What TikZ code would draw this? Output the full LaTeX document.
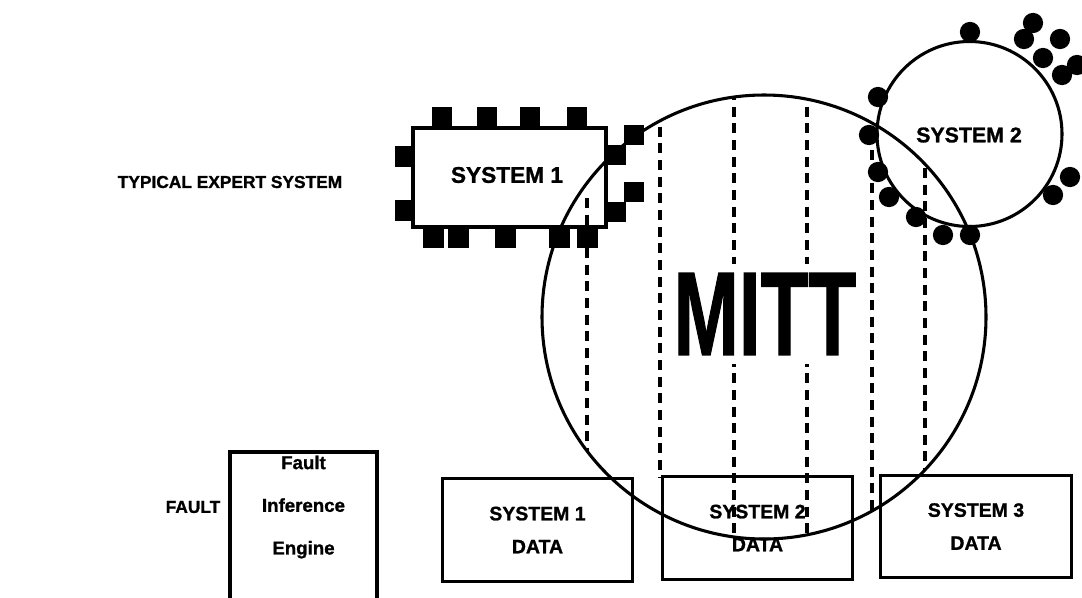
\documentclass[tikz,border=0pt]{standalone}
\usepackage{fontspec}
\setmainfont{Liberation Sans}[BoldFeatures={FakeBold=1.2}]
\usepackage{graphicx}
\begin{document}
\begin{tikzpicture}[x=0.75pt,y=-0.75pt,
  heavy/.style={line width=2.3pt},
  guide/.style={line width=2.4pt, dash pattern=on 7.5pt off 5pt},
  lbl/.style={font=\bfseries\fontsize{13}{16}\selectfont, inner sep=0pt},
  databox/.style={heavy, draw, rectangle, minimum width=143pt, minimum height=77pt,
    align=center, inner sep=0pt, font=\bfseries\fontsize{14.6}{24.75}\selectfont},
  blob/.style={fill=black},
]
\useasboundingbox (0,0) rectangle (1082,597);

% side captions
\node[lbl] (typical) at (230,182) {TYPICAL EXPERT SYSTEM};
\node[lbl] (fault) at (193,507) {FAULT};

% fault inference engine (box runs off the bottom edge)
\node[align=center, inner sep=0pt, font=\bfseries\fontsize{14}{32}\selectfont]
  (engine) at (303.5,507) {Fault\\Inference\\Engine};
\draw[heavy] (230,600) -- (230,452) -- (377,452) -- (377,600);

% data boxes
\node[databox] (data1) at (537.5,530) {SYSTEM 1\\DATA};
\node[databox] (data2) at (757.5,528) {SYSTEM 2\\DATA};
\node[databox] (data3) at (976,526.5) {SYSTEM 3\\DATA};

% MITT domain and its partitions
\node[heavy, draw, circle, minimum size=333pt, inner sep=0pt] (mitt) at (764,317) {};
\begin{scope}
  \clip (mitt.center) circle[radius=166.5pt];
  \draw[guide] (587,198) -- (587,458);
  \draw[guide] (660,110) -- (660,478);
  \draw[guide] (734,90) -- (734,545);
  \draw[guide] (807,90) -- (807,545);
  \draw[guide] (872,150) -- (872,520);
  \draw[guide] (925,168) -- (925,470);
\end{scope}
\node[fill=white, inner xsep=4pt, inner ysep=7pt, font=\bfseries\fontsize{89}{90}\selectfont]
  (mittlabel) at (765,314) {\scalebox{0.66}[1]{MITT}};

% system 1: chip-like rectangle with pins
\node[heavy, draw, rectangle, minimum width=144.75pt, minimum height=74.25pt,
  inner sep=0pt] (sys1) at (509.5,177.5) {};
\node[font=\bfseries\fontsize{17}{20}\selectfont, inner sep=0pt] (sys1label) at (507,175) {SYSTEM 1};
\foreach \x in {432,477,520,567} \fill (\x,107) rectangle ++(20,21);
\foreach \y in {146,200} \fill (395,\y) rectangle ++(19,21);
\foreach \x in {423,448,495,549,577} \fill (\x,227) rectangle ++(21,21);
\fill (606,145) rectangle (626,165);
\fill (624,125) rectangle (644,145);
\fill (624,182) rectangle (644,202);
\fill (606,202) rectangle (626,222);

% system 2: circle ringed with dots
\node[heavy, draw, circle, minimum size=138.75pt, inner sep=0pt] (sys2) at (969.5,134) {};
\node[font=\bfseries\fontsize{16}{19}\selectfont, inner sep=0pt] (sys2label) at (969,135) {SYSTEM 2};
\foreach \p in {(970,32),(1033,23),(1024,39),(1060,39),(1043,58),(1062,75),(1077,65),
  (878,97),(869,135),(878,172),(889,197),(916,217),(943,235),(970,235),(1053,195),(1070,177)}
  \fill[blob] \p circle[radius=7.6pt];
\end{tikzpicture}
\end{document}
